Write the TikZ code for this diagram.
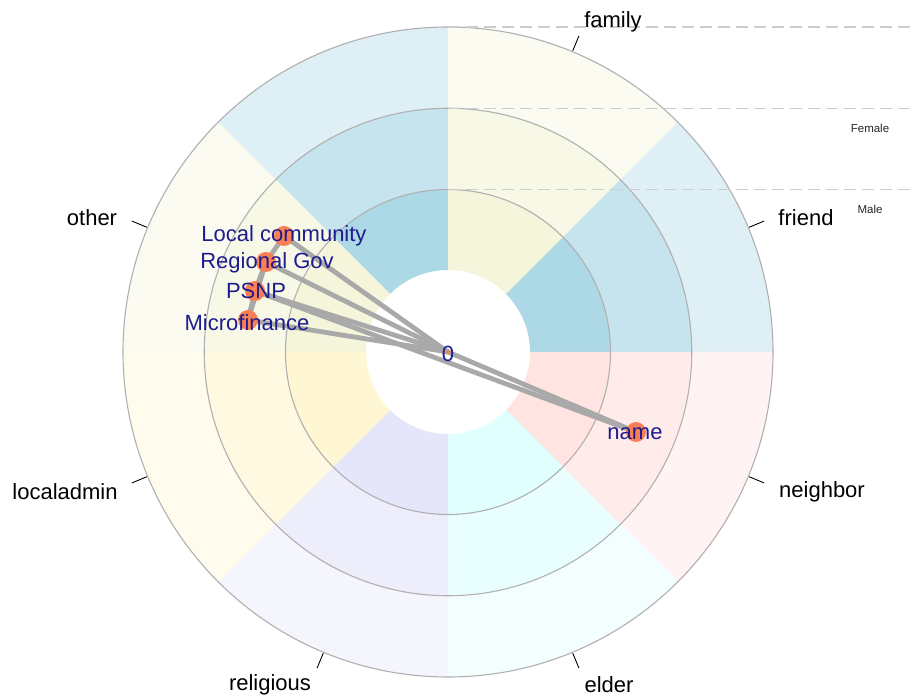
\documentclass[tikz,border=0pt]{standalone}
\usepackage{fontspec}
\setmainfont{Liberation Sans}
\definecolor{cblue}{HTML}{ADD8E6}
\definecolor{cbeige}{HTML}{F5F5DC}
\definecolor{crose}{HTML}{FFE4E1}
\definecolor{ccyan}{HTML}{E0FFFF}
\definecolor{clav}{HTML}{E6E6FA}
\definecolor{clemon}{HTML}{FFF7D4}
\definecolor{ringgray}{HTML}{B0B0B0}
\definecolor{edgegray}{HTML}{A9A9A9}
\definecolor{dashgray}{HTML}{CCCCCC}
\definecolor{dotcoral}{HTML}{FB7F55}
\definecolor{labblue}{HTML}{1C1C8F}
\tikzset{
  ring/.style={draw=ringgray, line width=1.1pt},
  ticklab/.style={draw=black, line width=0.9pt},
  catlabel/.style={font=\fontsize{22}{26}\selectfont, text=black, inner sep=0pt, text height=16pt, text depth=4.6pt},
  sexlabel/.style={font=\fontsize{11.5}{13}\selectfont, text=black!85, inner sep=0pt},
  guide/.style={draw=dashgray, line width=1.1pt, dash pattern=on 12pt off 6pt},
  edge/.style={draw=edgegray, line width=4.8pt},
  alter/.style={circle, fill=dotcoral, minimum size=20pt, inner sep=0pt},
  egodot/.style={circle, fill=dotcoral, minimum size=4pt, inner sep=0pt},
  altlabel/.style={font=\fontsize{22}{26}\selectfont, text=labblue, inner sep=0pt, text height=16pt, text depth=4.6pt}
}
\begin{document}
\begin{tikzpicture}[x=1pt,y=1pt]
\useasboundingbox (0,0) rectangle (915,696);
\begin{scope}[shift={(448,344)}]
  \foreach \a/\col in {90/cblue,45/cbeige,0/cblue,-45/crose,-90/ccyan,-135/clav,-180/clemon,135/cbeige}{
    \pgfmathsetmacro{\b}{\a+45}
    \fill[\col] (\a:82) arc[start angle=\a,end angle=\b,radius=82] -- (\b:162.5) arc[start angle=\b,end angle=\a,radius=162.5] -- cycle;
    \fill[\col!70!white] (\a:162.5) arc[start angle=\a,end angle=\b,radius=162.5] -- (\b:243.75) arc[start angle=\b,end angle=\a,radius=243.75] -- cycle;
    \fill[\col!40!white] (\a:243.75) arc[start angle=\a,end angle=\b,radius=243.75] -- (\b:325) arc[start angle=\b,end angle=\a,radius=325] -- cycle;
  }
  \draw[ring] (0,0) circle[radius=162.5];
  \draw[ring] (0,0) circle[radius=243.75];
  \draw[ring] (0,0) circle[radius=325];
  \foreach \t in {67.5,22.5,-22.5,-67.5,-112.5,-157.5,157.5}{
    \draw[ticklab] (\t:326) -- (\t:342);
  }
\end{scope}
% guide lines
\coordinate (g1a) at (448,669); \coordinate (g1b) at (915,669);
\coordinate (g2a) at (448,587.75); \coordinate (g2b) at (915,587.75);
\coordinate (g3a) at (448,506.5); \coordinate (g3b) at (915,506.5);
\draw[guide] (g1a) -- (g1b);
\draw[guide] (g2a) -- (g2b);
\draw[guide] (g3a) -- (g3b);
\node[sexlabel] (female) at (870,568) {Female};
\node[sexlabel] (male) at (870,487) {Male};
% category labels
\node[catlabel] (family) at (613,674) {family};
\node[catlabel] (friend) at (806,476) {friend};
\node[catlabel] (neighbor) at (822,204) {neighbor};
\node[catlabel, text depth=0pt, anchor=base] (elder) at (609,3.5) {elder};
\node[catlabel] (religious) at (270,11) {religious};
\node[catlabel] (localadmin) at (65,202) {localadmin};
\node[catlabel] (other) at (92,476) {other};
% network
\coordinate (ego) at (448,344);
\coordinate (lc) at (284,460);
\coordinate (rg) at (266,434);
\coordinate (psnp) at (255,405);
\coordinate (mf) at (248,376);
\coordinate (nm) at (636,264);
\draw[edge] (ego) -- (lc);
\draw[edge] (ego) -- (rg);
\draw[edge] (ego) -- (psnp);
\draw[edge] (ego) -- (mf);
\draw[edge] (ego) -- (nm);
\draw[edge] (psnp) -- (nm);
\draw[edge] (lc) -- (rg);
\draw[edge] (rg) -- (psnp);
\draw[edge] (psnp) -- (mf);
\draw[edge] (rg) -- (mf);
\node[alter] (lcdot) at (lc) {};
\node[alter] (rgdot) at (rg) {};
\node[alter] (psnpdot) at (psnp) {};
\node[alter] (mfdot) at (mf) {};
\node[alter] (nmdot) at (nm) {};
\node[egodot] (egodot) at (ego) {};
\node[altlabel] (lclab) at (284,460) {Local community};
\node[altlabel] (rglab) at (267,433) {Regional Gov};
\node[altlabel] (psnplab) at (256,403) {PSNP};
\node[altlabel] (mflab) at (247,371) {Microfinance};
\node[altlabel] (nmlab) at (635,262) {name};
\node[altlabel] (egolab) at (448,340) {0};
\end{tikzpicture}
\end{document}
